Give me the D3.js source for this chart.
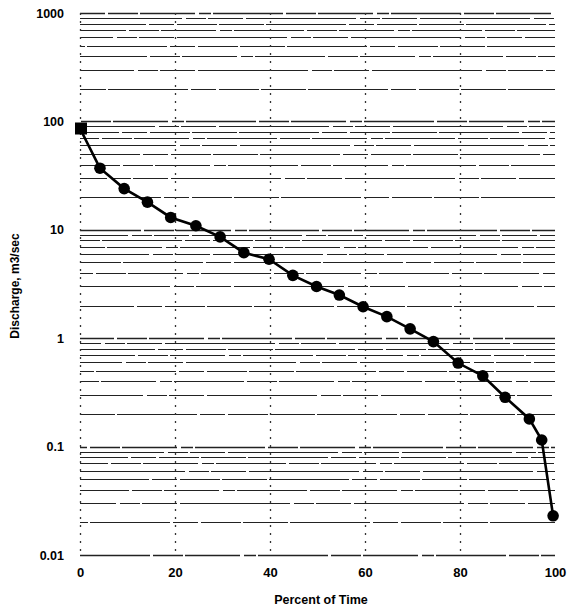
<!DOCTYPE html>
<html>
<head>
<meta charset="utf-8">
<script src="https://cdn.jsdelivr.net/npm/d3@7"></script>
<style>
  body { margin: 0; background: #fff; }
  svg text { font-family: "Liberation Sans", Arial, sans-serif; font-weight: bold; fill: #000; }
</style>
</head>
<body>
<div id="chart"></div>
<script>
// values
const percentTime = [0, 4.2, 9.3, 14.2, 19.1, 24.4, 29.5, 34.5, 39.8, 44.8, 49.8, 54.6, 59.6, 64.6, 69.5, 74.4, 79.6, 84.8, 89.5, 94.6, 97.2, 99.6];
const discharge = [86, 37, 24, 18, 13, 10.9, 8.6, 6.15, 5.35, 3.8, 3.0, 2.5, 1.95, 1.58, 1.22, 0.93, 0.59, 0.45, 0.285, 0.18, 0.115, 0.023];
const yTicks = [1000, 100, 10, 1, 0.1, 0.01];
const yTickLabels = ["1000", "100", "10", "1", "0.1", "0.01"];
const xTicks = [0, 20, 40, 60, 80, 100];

const width = 573, height = 614;
const plot = { left: 80, right: 555, top: 13, bottom: 555 };

const svg = d3.select("#chart").append("svg")
    .attr("width", width)
    .attr("height", height);

const x = d3.scaleLinear().domain([0, 100]).range([plot.left, plot.right]);
const y = d3.scaleLog().domain([0.01, 1000]).range([plot.bottom, plot.top]);

// horizontal log grid (1..9 per decade), broken like the scan
const gridVals = [];
for (let e = -2; e < 3; e++) {
  for (let m = 1; m < 10; m++) gridVals.push(m * Math.pow(10, e));
}
gridVals.push(1000);

const dashes = ["70,3,30,2,55,4,12,2", "45,2,80,3,25,3,40,2", "110,4,20,2,35,3"];

svg.append("g")
  .selectAll("line")
  .data(gridVals)
  .join("line")
    .attr("x1", x(0))
    .attr("x2", x(100))
    .attr("y1", d => Math.round(y(d)) + 0.5)
    .attr("y2", d => Math.round(y(d)) + 0.5)
    .attr("stroke", "#222")
    .attr("stroke-width", (d, i) => i % 9 === 0 ? 1.3 : 1)
    .attr("stroke-dasharray", (d, i) => dashes[i % 3])
    .attr("stroke-dashoffset", (d, i) => (i * 37) % 90);

// vertical dotted grid lines
svg.append("g")
  .selectAll("line")
  .data([0, 20, 40, 60, 80])
  .join("line")
    .attr("x1", d => Math.round(x(d)) + 0.5)
    .attr("x2", d => Math.round(x(d)) + 0.5)
    .attr("y1", y(1000))
    .attr("y2", y(0.01))
    .attr("stroke", "#333")
    .attr("stroke-width", 1.3)
    .attr("stroke-dasharray", "2,6");

// y axis labels
const yAxis = svg.append("g")
    .attr("transform", `translate(${plot.left - 16},0)`)
    .call(d3.axisLeft(y).tickValues(yTicks).tickSize(0)
      .tickFormat((d, i) => yTickLabels[i]));
yAxis.select(".domain").remove();
yAxis.selectAll("text")
    .attr("x", 0)
    .style("font-size", "12.5px")
    .style("font-family", "'Liberation Sans', Arial, sans-serif");

// x axis labels
const xAxis = svg.append("g")
    .attr("transform", `translate(0,${plot.bottom + 10})`)
    .call(d3.axisBottom(x).tickValues(xTicks).tickSize(0));
xAxis.select(".domain").remove();
xAxis.selectAll("text")
    .style("font-size", "13px")
    .style("font-family", "'Liberation Sans', Arial, sans-serif");

svg.append("text")
    .attr("x", 321)
    .attr("y", 604)
    .attr("text-anchor", "middle")
    .style("font-size", "12.5px")
    .text("Percent of Time");

svg.append("text")
    .attr("transform", "translate(19,286) rotate(-90)")
    .attr("text-anchor", "middle")
    .style("font-size", "12px")
    .text("Discharge, m3/sec");

// curve
const points = percentTime.map((p, i) => ({ p: p, q: discharge[i] }));

svg.append("path")
    .datum(points)
    .attr("fill", "none")
    .attr("stroke", "#000")
    .attr("stroke-width", 2.6)
    .attr("d", d3.line().x(d => x(d.p)).y(d => y(d.q)));

svg.append("g")
  .selectAll("circle")
  .data(points.slice(1))
  .join("circle")
    .attr("cx", d => x(d.p))
    .attr("cy", d => y(d.q))
    .attr("r", 5.8)
    .attr("fill", "#000");

svg.append("rect")
    .attr("x", x(points[0].p) - 5)
    .attr("y", y(points[0].q) - 6)
    .attr("width", 12)
    .attr("height", 12)
    .attr("fill", "#000");
</script>
</body>
</html>
